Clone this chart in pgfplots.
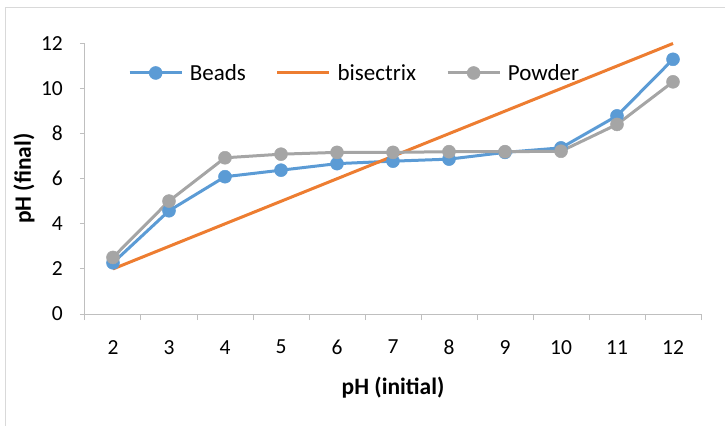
\documentclass[border=0pt]{standalone}
\usepackage{fontspec}
\setmainfont{Carlito}
\usepackage{pgfplots}
\pgfplotsset{compat=1.18}
\definecolor{cBlue}{HTML}{5B9BD5}
\definecolor{cOrange}{HTML}{ED7D31}
\definecolor{cGray}{HTML}{A5A5A5}
\definecolor{cAxis}{HTML}{BFBFBF}
\definecolor{cBorder}{HTML}{D9D9D9}
\begin{document}
\begin{tikzpicture}
\path[use as bounding box] (-85bp,-112bp) rectangle (640bp,314bp);
\draw[cBorder, line width=1bp] (-79bp,-130bp) rectangle (660bp,306bp);
\begin{axis}[
  at={(0,0)}, anchor=south west,
  scale only axis, width=616bp, height=270.5bp,
  xmin=1.5, xmax=12.5, ymin=0, ymax=12,
  clip=false,
  axis x line*=bottom, axis y line*=left,
  axis line style={cAxis, line width=1bp, -},
  xtick={2,...,12}, ytick={0,2,...,12},
  minor xtick={1.5,2.5,...,12.5},
  tick align=outside,
  major tick length=5bp, minor tick length=6bp,
  major x tick style={draw=none},
  tick style={cAxis, line width=1bp},
  /pgf/number format/assume math mode=true,
  ticklabel style={font=\fontsize{21.5bp}{24bp}\selectfont, text=black},
  xticklabel style={inner sep=0pt, anchor=north, yshift=-21bp},
  yticklabel style={inner sep=0pt, anchor=east, xshift=-17bp},
  xlabel={pH (initial)}, ylabel={pH (final)},
  label style={font=\bfseries\fontsize{23.5bp}{26bp}\selectfont, inner sep=0pt},
  xlabel style={at={(axis description cs:0.5,-0.2717)}, anchor=center},
  ylabel style={at={(axis description cs:-0.099,0.5)}, anchor=center},
  legend columns=3,
  legend image code/.code={\draw[mark repeat=2,mark phase=2,#1] plot coordinates {(0bp,0bp) (26bp,0bp) (52bp,0bp)};},
  legend style={at={(axis description cs:0.0698,0.891)}, anchor=west,
    draw=none, fill=none, inner sep=0pt,
    font=\fontsize{23bp}{26bp}\selectfont,
    nodes={inner sep=0pt, anchor=west},
    /tikz/every odd column/.style={column sep=6.7bp},
    /tikz/every even column/.style={column sep=30bp}},
]
\addplot[cBlue, line width=3bp, mark=*, mark size=6.5bp,
  mark options={solid, fill=cBlue, draw=cBlue, line width=0.5bp}]
  coordinates {(2,2.27)(3,4.58)(4,6.09)(5,6.38)(6,6.67)(7,6.78)(8,6.87)(9,7.17)(10,7.37)(11,8.79)(12,11.3)};
\addlegendentry{Beads}
\addplot[cOrange, line width=3bp]
  coordinates {(2,2)(3,3)(4,4)(5,5)(6,6)(7,7)(8,8)(9,9)(10,10)(11,11)(12,12)};
\addlegendentry{bisectrix}
\addplot[cGray, line width=3bp, mark=*, mark size=6.5bp,
  mark options={solid, fill=cGray, draw=cGray, line width=0.5bp}]
  coordinates {(2,2.51)(3,5.01)(4,6.93)(5,7.09)(6,7.17)(7,7.17)(8,7.2)(9,7.2)(10,7.22)(11,8.41)(12,10.3)};
\addlegendentry{Powder}
\end{axis}
\end{tikzpicture}
\end{document}
